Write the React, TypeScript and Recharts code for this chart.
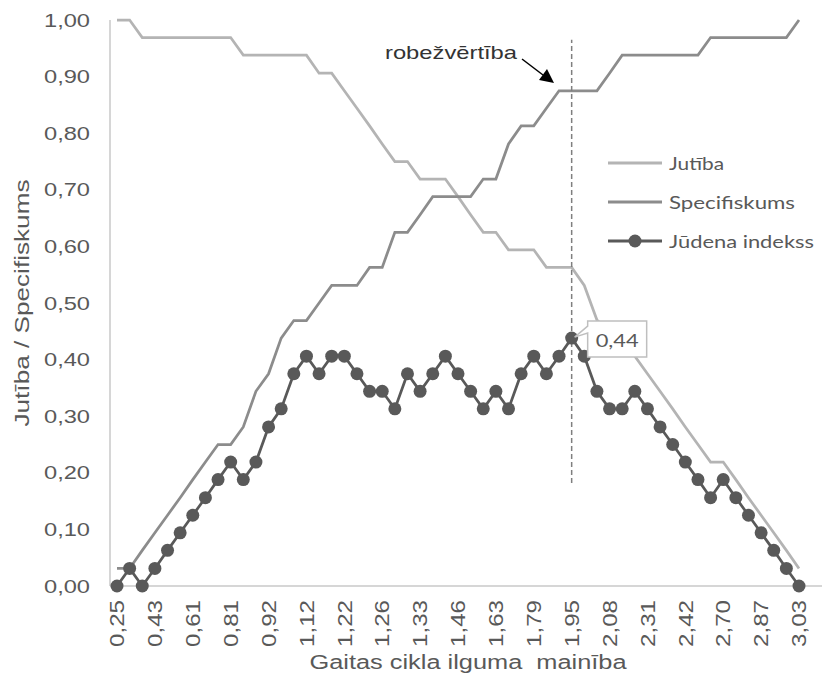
import React from "react";
import {
  LineChart,
  Line,
  XAxis,
  YAxis,
  ReferenceLine,
  Legend,
  LabelList,
  Customized,
} from "recharts";

// threshold values (only every third one is printed on the axis)
const thresholds = [
  "0,25", "0,30", "0,38", "0,43", "0,48", "0,55", "0,61", "0,67", "0,75", "0,81",
  "0,84", "0,89", "0,92", "0,98", "1,06", "1,12", "1,15", "1,19", "1,22", "1,24",
  "1,25", "1,26", "1,28", "1,30", "1,33", "1,37", "1,42", "1,46", "1,52", "1,58",
  "1,63", "1,68", "1,74", "1,79", "1,84", "1,90", "1,95", "1,99", "2,03", "2,08",
  "2,15", "2,24", "2,31", "2,35", "2,38", "2,42", "2,51", "2,61", "2,70", "2,76",
  "2,82", "2,87", "2,93", "2,98", "3,03",
];

const sensitivity = [
  1, 1, 0.969, 0.969, 0.969, 0.969, 0.969, 0.969, 0.969, 0.969,
  0.938, 0.938, 0.938, 0.938, 0.938, 0.938, 0.906, 0.906, 0.875, 0.844,
  0.813, 0.781, 0.75, 0.75, 0.719, 0.719, 0.719, 0.688, 0.656, 0.625,
  0.625, 0.594, 0.594, 0.594, 0.563, 0.563, 0.563, 0.531, 0.47, 0.45,
  0.43, 0.406, 0.375, 0.344, 0.313, 0.281, 0.25, 0.219, 0.219, 0.188,
  0.156, 0.125, 0.094, 0.063, 0.031,
];

const specificity = [
  0.031, 0.031, 0.063, 0.094, 0.125, 0.156, 0.188, 0.219, 0.25, 0.25,
  0.281, 0.344, 0.375, 0.438, 0.469, 0.469, 0.5, 0.531, 0.531, 0.531,
  0.563, 0.563, 0.625, 0.625, 0.656, 0.688, 0.688, 0.688, 0.688, 0.719,
  0.719, 0.781, 0.813, 0.813, 0.844, 0.875, 0.875, 0.875, 0.875, 0.906,
  0.938, 0.938, 0.938, 0.938, 0.938, 0.938, 0.938, 0.969, 0.969, 0.969,
  0.969, 0.969, 0.969, 0.969, 1,
];

const youden = [
  0, 0.031, 0, 0.031, 0.063, 0.094, 0.125, 0.156, 0.188, 0.219,
  0.188, 0.219, 0.281, 0.313, 0.375, 0.406, 0.375, 0.406, 0.406, 0.375,
  0.344, 0.344, 0.313, 0.375, 0.344, 0.375, 0.406, 0.375, 0.344, 0.313,
  0.344, 0.313, 0.375, 0.406, 0.375, 0.406, 0.438, 0.406, 0.344, 0.313,
  0.313, 0.344, 0.313, 0.281, 0.25, 0.219, 0.188, 0.156, 0.188, 0.156,
  0.125, 0.094, 0.063, 0.031, 0,
];

const yTicks = [0, 0.1, 0.2, 0.3, 0.4, 0.5, 0.6, 0.7, 0.8, 0.9, 1];

const data = thresholds.map((t, i) => ({
  t,
  sens: sensitivity[i],
  spec: specificity[i],
  youden: youden[i],
}));

const cutIndex = youden.indexOf(Math.max(...youden));
const cutoff = thresholds[cutIndex];

const SENS = "#b4b4b4";
const SPEC = "#8c8c8c";
const YOUDEN = "#595959";
const TEXT = "#595959";
const AXIS = "#c8c8c8";
const ARIAL = "'Liberation Sans', Arial, sans-serif";
const CALIBRI = "Lato, 'Open Sans', sans-serif";

const comma = (v: number) => v.toFixed(2).replace(".", ",");

const YTick = ({ x, y, payload }: any) => (
  <text
    x={x}
    y={y}
    textAnchor="end"
    dominantBaseline="central"
    fontFamily={ARIAL}
    fontSize={19}
    fill={TEXT}
    textLength={46}
    lengthAdjust="spacingAndGlyphs"
  >
    {comma(payload.value)}
  </text>
);

const XTick = ({ x, y, payload }: any) => (
  <text
    transform={`translate(${x},${y}) rotate(-90)`}
    textAnchor="end"
    dy="0.36em"
    fontFamily={ARIAL}
    fontSize={20}
    fill={TEXT}
    textLength={47}
    lengthAdjust="spacingAndGlyphs"
  >
    {payload.value}
  </text>
);

const legendOrder = ["sens", "spec", "youden"];
const legendWidths: Record<string, number> = {
  "Jutība": 55,
  "Specifiskums": 126,
  "Jūdena indekss": 145,
};

const LegendBox = ({ payload }: any) => {
  const items = [...(payload || [])].sort(
    (a: any, b: any) => legendOrder.indexOf(a.dataKey) - legendOrder.indexOf(b.dataKey)
  );
  return (
    <svg width={220} height={110}>
      {items.map((entry: any, i: number) => {
        const cy = 15 + i * 39;
        return (
          <g key={entry.value}>
            <line x1={2} x2={56} y1={cy} y2={cy} stroke={entry.color} strokeWidth={3} />
            {entry.dataKey === "youden" && <circle cx={29} cy={cy} r={6.5} fill={entry.color} />}
            <text
              x={63}
              y={cy}
              dominantBaseline="central"
              fontFamily={CALIBRI}
              fontSize={18}
              fill={TEXT}
              textLength={legendWidths[entry.value]}
              lengthAdjust="spacingAndGlyphs"
            >
              {entry.value}
            </text>
          </g>
        );
      })}
    </svg>
  );
};

const PeakLabel = (p: any) => {
  if (p.index !== cutIndex) return null;
  const x = p.x;
  const y = p.y;
  return (
    <g>
      <path
        d={`M${x + 16},${y - 17} H${x + 75} V${y + 19} H${x + 16} V${y - 5} L${x + 3},${y - 1} L${x + 16},${y - 12} Z`}
        fill="#fff"
        stroke="#bfbfbf"
        strokeWidth={1.5}
      />
      <text
        x={x + 45.5}
        y={y + 2}
        textAnchor="middle"
        dominantBaseline="central"
        fontFamily={CALIBRI}
        fontSize={18}
        fill={TEXT}
        textLength={43}
        lengthAdjust="spacingAndGlyphs"
      >
        {comma(p.value)}
      </text>
    </g>
  );
};

const Annotations = () => (
  <g>
    <text
      transform="translate(14,295) rotate(-90)"
      textAnchor="middle"
      dominantBaseline="central"
      fontFamily={ARIAL}
      fontSize={20}
      fill={TEXT}
      textLength={247}
      lengthAdjust="spacingAndGlyphs"
    >
      Jutība / Specifiskums
    </text>
    <text
      x={460}
      y={654}
      textAnchor="middle"
      dominantBaseline="central"
      fontFamily={ARIAL}
      fontSize={20}
      fill={TEXT}
      textLength={317}
      lengthAdjust="spacingAndGlyphs"
      style={{ whiteSpace: "pre" }}
    >
      {"Gaitas cikla ilguma  mainība"}
    </text>
    <text
      x={377}
      y={51}
      fontFamily={ARIAL}
      fontSize={19}
      fill="#333"
      textLength={132}
      lengthAdjust="spacingAndGlyphs"
    >
      robežvērtība
    </text>
    <line x1={514} y1={51} x2={535} y2={67} stroke="#000" strokeWidth={1.5} />
    <polygon points="546,75 531,72 539,61" fill="#000" />
  </g>
);

export default function App() {
  return (
    <div style={{ width: 816, height: 679 }}>
      <LineChart
        width={816}
        height={679}
        data={data}
        margin={{ top: 12, right: 2, left: 0, bottom: 0 }}
      >
        <XAxis
          dataKey="t"
          type="category"
          interval={2}
          padding={{ left: 7, right: 23 }}
          height={101}
          axisLine={{ stroke: AXIS, strokeWidth: 1.5 }}
          tickLine={false}
          tickSize={0}
          tickMargin={14}
          tick={<XTick />}
        />
        <YAxis
          type="number"
          domain={[0, 1]}
          ticks={yTicks}
          width={102}
          axisLine={{ stroke: AXIS, strokeWidth: 1.5 }}
          tickLine={false}
          tickSize={0}
          tickMargin={20}
          tick={<YTick />}
        />
        <Legend
          layout="vertical"
          align="center"
          verticalAlign="middle"
          wrapperStyle={{ left: 598, top: 140, width: 220, height: 110 }}
          content={<LegendBox />}
        />
        <Line
          type="linear"
          dataKey="sens"
          name="Jutība"
          stroke={SENS}
          strokeWidth={2.75}
          dot={false}
          activeDot={false}
          isAnimationActive={false}
        />
        <Line
          type="linear"
          dataKey="spec"
          name="Specifiskums"
          stroke={SPEC}
          strokeWidth={2.75}
          dot={false}
          activeDot={false}
          isAnimationActive={false}
        />
        <ReferenceLine
          segment={[
            { x: cutoff, y: 0.182 },
            { x: cutoff, y: 0.965 },
          ]}
          stroke="#7f7f7f"
          strokeWidth={1.5}
          strokeDasharray="5 3"
        />
        <Line
          type="linear"
          dataKey="youden"
          name="Jūdena indekss"
          stroke={YOUDEN}
          strokeWidth={2.75}
          dot={{ r: 6.5, fill: YOUDEN, stroke: YOUDEN, strokeWidth: 0 }}
          activeDot={false}
          isAnimationActive={false}
        >
          <LabelList dataKey="youden" content={<PeakLabel />} />
        </Line>
        <Customized component={<Annotations />} />
      </LineChart>
    </div>
  );
}
